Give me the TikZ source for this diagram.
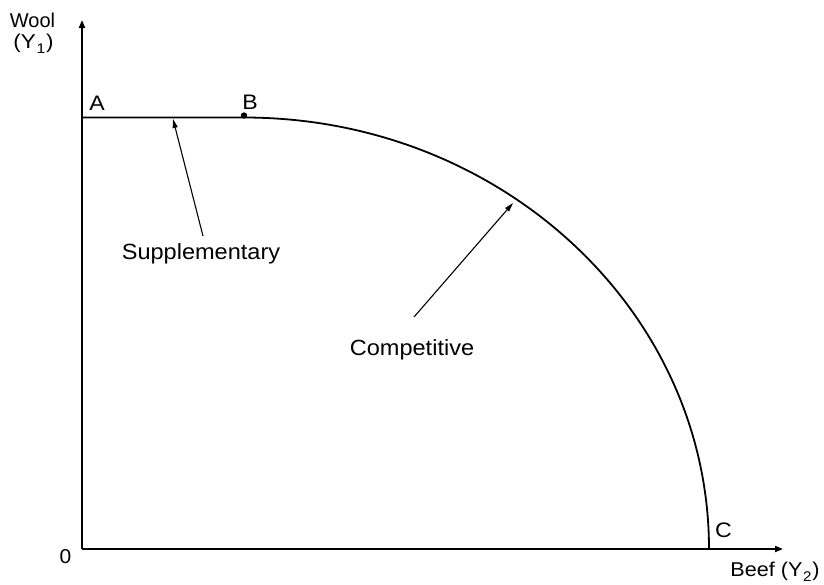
\documentclass[tikz,border=0pt]{standalone}
\usepackage{fontspec}
\setmainfont{Liberation Sans}
\usetikzlibrary{arrows.meta}
\newcommand{\lbl}[3]{\scalebox{#2}[1]{\fontsize{#1}{#1}\selectfont #3}}
\newcommand{\sbs}[1]{\raisebox{-0.25em}{\fontsize{14}{14}\selectfont\hspace{0.05em}#1\hspace{0.05em}}}
\tikzset{
  axis/.style={line width=1.8pt,-{Triangle[length=8pt,width=6pt]}},
  curve/.style={line width=1.8pt},
  pointer/.style={line width=1.1pt,-{Triangle[length=9pt,width=5pt]}},
  txt/.style={inner sep=0pt,outer sep=0pt,anchor=base}
}
\begin{document}
\begin{tikzpicture}[x=1pt,y=-1pt]
\useasboundingbox (0,0) rectangle (824,584);
% axes
\coordinate (O) at (82,549);
\coordinate (Ytop) at (82,20);
\coordinate (Xend) at (783,549);
\draw[axis] (O) -- (Ytop);
\draw[axis] (O) -- (Xend);
% frontier
\coordinate (Astart) at (82,117.5);
\coordinate (Bpt) at (244,117.5);
\coordinate (Cpt) at (709,549);
\draw[curve] (Astart) -- (Bpt) arc[start angle=90,end angle=0,x radius=465,y radius=-431.5];
\fill (244,115.5) circle[radius=3.2];
% labels
\node[txt] (wool) at (32.5,27) {\lbl{20}{1.0}{Wool}};
\node[txt] (y1) at (33.5,48.5) {\lbl{20}{1.12}{(Y\sbs{1})}};
\node[txt] (lA) at (97,110) {\lbl{21}{1.1}{A}};
\node[txt] (lB) at (250,109) {\lbl{21}{1.1}{B}};
\node[txt] (lC) at (723.5,537) {\lbl{21}{1.1}{C}};
\node[txt] (l0) at (65.5,563) {\lbl{20}{1.05}{0}};
\node[txt] (beef) at (775,576) {\lbl{20}{1.08}{Beef (Y\sbs{2})}};
\node[txt] (supp) at (201,259) {\lbl{22}{1.07}{Supplementary}};
\node[txt] (comp) at (412,355) {\lbl{22}{1.07}{Competitive}};
% pointers
\coordinate (suppTail) at (203,236);
\coordinate (suppHead) at (173,119);
\coordinate (compTail) at (414,317);
\coordinate (compHead) at (513,203);
\draw[pointer] (suppTail) -- (suppHead);
\draw[pointer] (compTail) -- (compHead);
\end{tikzpicture}
\end{document}
